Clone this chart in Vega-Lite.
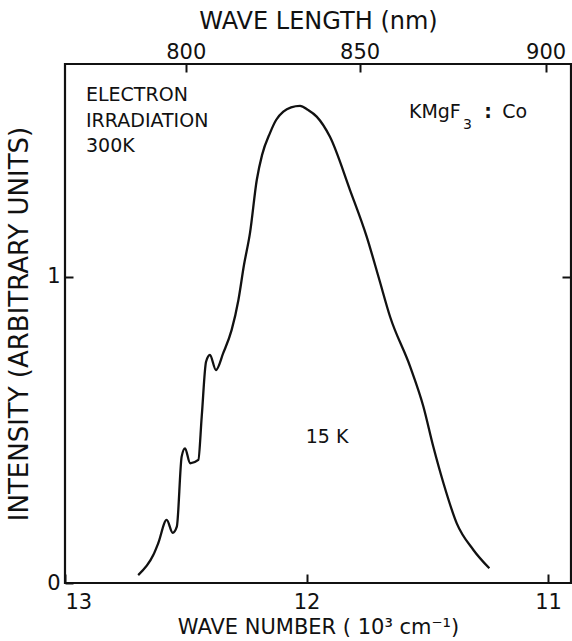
{
  "$schema": "https://vega.github.io/schema/vega-lite/v6.json",
  "width": 506,
  "height": 519,
  "autosize": "none",
  "padding": {"left": 65, "top": 64, "right": 1, "bottom": 58},
  "background": "white",
  "config": {
    "view": {"stroke": "#111", "strokeWidth": 2.2},
    "font": "DejaVu Sans",
    "axis": {
      "domain": false,
      "grid": false,
      "labelFont": "DejaVu Sans",
      "labelFontSize": 21,
      "labelColor": "#111",
      "labelOverlap": false,
      "titleFont": "DejaVu Sans",
      "titleFontWeight": "normal",
      "titleColor": "#111",
      "tickColor": "#111",
      "tickWidth": 2
    }
  },
  "datasets": {
    "spectrum": [
      {"wave_number": 12.697, "intensity": 0.026},
      {"wave_number": 12.634, "intensity": 0.092},
      {"wave_number": 12.614, "intensity": 0.130},
      {"wave_number": 12.579, "intensity": 0.206},
      {"wave_number": 12.554, "intensity": 0.164},
      {"wave_number": 12.537, "intensity": 0.184},
      {"wave_number": 12.517, "intensity": 0.413},
      {"wave_number": 12.503, "intensity": 0.440},
      {"wave_number": 12.482, "intensity": 0.391},
      {"wave_number": 12.448, "intensity": 0.402},
      {"wave_number": 12.434, "intensity": 0.543},
      {"wave_number": 12.416, "intensity": 0.723},
      {"wave_number": 12.400, "intensity": 0.745},
      {"wave_number": 12.375, "intensity": 0.696},
      {"wave_number": 12.345, "intensity": 0.751},
      {"wave_number": 12.310, "intensity": 0.827},
      {"wave_number": 12.282, "intensity": 0.925},
      {"wave_number": 12.259, "intensity": 1.039},
      {"wave_number": 12.234, "intensity": 1.144},
      {"wave_number": 12.206, "intensity": 1.317},
      {"wave_number": 12.184, "intensity": 1.399},
      {"wave_number": 12.151, "intensity": 1.471},
      {"wave_number": 12.126, "intensity": 1.513},
      {"wave_number": 12.096, "intensity": 1.540},
      {"wave_number": 12.064, "intensity": 1.554},
      {"wave_number": 12.027, "intensity": 1.559},
      {"wave_number": 11.994, "intensity": 1.546},
      {"wave_number": 11.958, "intensity": 1.524},
      {"wave_number": 11.903, "intensity": 1.458},
      {"wave_number": 11.820, "intensity": 1.284},
      {"wave_number": 11.751, "intensity": 1.132},
      {"wave_number": 11.700, "intensity": 0.995},
      {"wave_number": 11.654, "intensity": 0.870},
      {"wave_number": 11.571, "intensity": 0.707},
      {"wave_number": 11.516, "intensity": 0.576},
      {"wave_number": 11.475, "intensity": 0.445},
      {"wave_number": 11.433, "intensity": 0.326},
      {"wave_number": 11.378, "intensity": 0.195},
      {"wave_number": 11.309, "intensity": 0.108},
      {"wave_number": 11.243, "intensity": 0.048}
    ]
  },
  "layer": [
    {
      "data": {"name": "spectrum"},
      "mark": {"type": "line", "color": "#111", "strokeWidth": 2.3, "interpolate": "monotone"},
      "encoding": {
        "x": {
          "field": "wave_number",
          "type": "quantitative",
          "scale": {"domain": [10.905, 13], "reverse": true, "nice": false, "zero": false},
          "axis": {
            "orient": "bottom",
            "values": [13, 12, 11],
            "labelExpr": "format(datum.value, 'd')",
            "tickSize": -9,
            "labelPadding": 17,
            "title": "WAVE NUMBER ( 10³ cm⁻¹)",
            "titleFontSize": 21,
            "titlePadding": 4
          }
        },
        "y": {
          "field": "intensity",
          "type": "quantitative",
          "scale": {"domain": [0, 1.696], "nice": false, "zero": true},
          "axis": {
            "orient": "left",
            "values": [0, 1],
            "labelExpr": "format(datum.value, 'd')",
            "tickSize": -8,
            "labelPadding": 13,
            "title": "INTENSITY (ARBITRARY UNITS)",
            "titleFontSize": 26,
            "titlePadding": 14
          }
        },
        "order": {"field": "wave_number", "sort": "descending"}
      }
    },
    {
      "data": {"name": "spectrum"},
      "mark": {"type": "point", "opacity": 0},
      "encoding": {
        "x": {
          "field": "wave_number",
          "type": "quantitative",
          "axis": {
            "orient": "top",
            "values": [12.5, 11.78, 11.01],
            "labelExpr": "datum.value == 12.5 ? '800' : datum.value == 11.78 ? '850' : '900'",
            "tickSize": -8,
            "labelPadding": 10,
            "title": "WAVE LENGTH (nm)",
            "titleFontSize": 24,
            "titlePadding": 8
          }
        },
        "y": {
          "field": "intensity",
          "type": "quantitative",
          "axis": {"orient": "right", "values": [1], "labels": false, "tickSize": -9, "title": null}
        }
      }
    },
    {
      "data": {"values": [{}]},
      "mark": {"type": "text", "align": "left", "baseline": "middle", "fontSize": 19, "color": "#111"},
      "encoding": {
        "x": {"datum": 12.913, "type": "quantitative", "axis": null},
        "y": {"datum": 1.595, "type": "quantitative", "axis": null},
        "text": {"value": "ELECTRON"}
      }
    },
    {
      "data": {"values": [{}]},
      "mark": {"type": "text", "align": "left", "baseline": "middle", "fontSize": 19, "color": "#111"},
      "encoding": {
        "x": {"datum": 12.913, "type": "quantitative", "axis": null},
        "y": {"datum": 1.510, "type": "quantitative", "axis": null},
        "text": {"value": "IRRADIATION"}
      }
    },
    {
      "data": {"values": [{}]},
      "mark": {"type": "text", "align": "left", "baseline": "middle", "fontSize": 19, "color": "#111"},
      "encoding": {
        "x": {"datum": 12.913, "type": "quantitative", "axis": null},
        "y": {"datum": 1.428, "type": "quantitative", "axis": null},
        "text": {"value": "300K"}
      }
    },
    {
      "data": {"values": [{}]},
      "mark": {"type": "text", "align": "left", "baseline": "middle", "fontSize": 19, "color": "#111"},
      "encoding": {
        "x": {"datum": 11.576, "type": "quantitative", "axis": null},
        "y": {"datum": 1.539, "type": "quantitative", "axis": null},
        "text": {"value": "KMgF"}
      }
    },
    {
      "data": {"values": [{}]},
      "mark": {"type": "text", "align": "left", "baseline": "middle", "fontSize": 14, "color": "#111"},
      "encoding": {
        "x": {"datum": 11.352, "type": "quantitative", "axis": null},
        "y": {"datum": 1.497, "type": "quantitative", "axis": null},
        "text": {"value": "3"}
      }
    },
    {
      "data": {"values": [{}]},
      "mark": {"type": "text", "align": "center", "baseline": "middle", "fontSize": 19, "fontWeight": "bold", "color": "#111"},
      "encoding": {
        "x": {"datum": 11.248, "type": "quantitative", "axis": null},
        "y": {"datum": 1.539, "type": "quantitative", "axis": null},
        "text": {"value": ":"}
      }
    },
    {
      "data": {"values": [{}]},
      "mark": {"type": "text", "align": "left", "baseline": "middle", "fontSize": 19, "color": "#111"},
      "encoding": {
        "x": {"datum": 11.190, "type": "quantitative", "axis": null},
        "y": {"datum": 1.539, "type": "quantitative", "axis": null},
        "text": {"value": "Co"}
      }
    },
    {
      "data": {"values": [{}]},
      "mark": {"type": "text", "align": "center", "baseline": "middle", "fontSize": 19, "color": "#111"},
      "encoding": {
        "x": {"datum": 11.915, "type": "quantitative", "axis": null},
        "y": {"datum": 0.477, "type": "quantitative", "axis": null},
        "text": {"value": "15 K"}
      }
    }
  ],
  "resolve": {"axis": {"x": "independent", "y": "independent"}}
}
